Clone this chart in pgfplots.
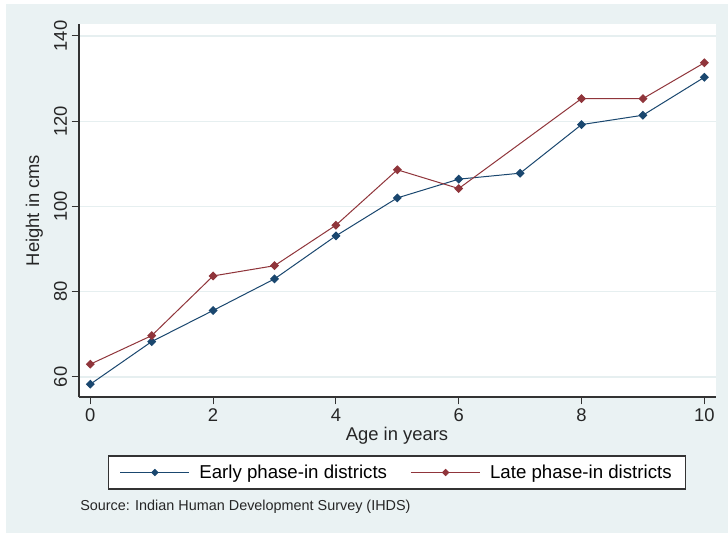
\documentclass[border=0pt]{standalone}
\usepackage{fontspec}
\setmainfont{Liberation Sans}
\usepackage{pgfplots}
\pgfplotsset{compat=1.18}
\definecolor{bgc}{HTML}{EAF2F3}
\definecolor{gridc}{HTML}{E6EFF0}
\definecolor{snavy}{HTML}{1A476F}
\definecolor{smaroon}{HTML}{90353B}
\definecolor{axc}{HTML}{333333}
\begin{document}
\begin{tikzpicture}
\path[fill=white] (0,0) rectangle (546pt,399.75pt);
\fill[bgc] (4.5pt,0) rectangle (546pt,396.75pt);
\begin{axis}[
  at={(59.25pt,102pt)}, anchor=south west,
  scale only axis, width=477.75pt, height=279.75pt,
  axis background/.style={fill=white},
  xmin=-0.184, xmax=10.19, ymin=55.3, ymax=142.8,
  axis x line*=bottom, axis y line*=left,
  axis line style={axc, line width=0.9pt},
  xtick={0,2,4,6,8,10}, ytick={60,80,100,120,140},
  minor tick num=0,
  tick align=outside, major tick length=5.5pt,
  tick style={axc, line width=0.75pt},
  ymajorgrids, grid style={gridc, line width=0.9pt},
  /pgf/number format/assume math mode=true,
  ticklabel style={font=\fontsize{13.8}{16}\selectfont, text=black!85},
  yticklabel style={rotate=90, anchor=south},
  xlabel={Age in years}, ylabel={Height in cms},
  label style={font=\fontsize{13.8}{16}\selectfont, text=black!85},
  xlabel style={at={(axis description cs:0.4992,-0.1046)}, anchor=center},
  ylabel style={at={(axis description cs:-0.0699,0.5)}, anchor=center, rotate=0},
  legend columns=2,
  legend style={at={(axis description cs:0.4992,-0.2024)}, anchor=center,
    draw=axc, line width=0.9pt, fill=white, font=\fontsize{14}{16}\selectfont,
    inner xsep=8.5pt, inner ysep=4.5pt,
    /tikz/every odd column/.append style={column sep=5pt},
    /tikz/every even column/.append style={column sep=15.5pt}},
  legend cell align=left,
  legend image code/.code={
    \draw[#1, mark repeat=2, mark phase=2, mark size=1.6pt] plot coordinates {(0pt,0pt) (26pt,0pt) (52pt,0pt)};
  },
  every axis plot/.append style={line width=0.75pt, mark=square*, mark size=2pt, mark options={rotate=45, solid}},
]
\addplot[snavy] coordinates {(0,58.3) (1,68.3) (2,75.6) (3,83.0) (4,93.1) (5,102.0) (6,106.4) (7,107.8) (8,119.2) (9,121.4) (10,130.3)};
\addlegendentry{Early phase-in districts}
\addplot[smaroon] coordinates {(0,63.0) (1,69.7) (2,83.7) (3,86.1) (4,95.6) (5,108.6) (6,104.2) (8,125.3) (9,125.3) (10,133.7)};
\addlegendentry{Late phase-in districts}
\end{axis}
\node[anchor=west, inner sep=0pt, font=\fontsize{10.8}{12}\selectfont, text=black!85] at (60pt,19.5pt) {Source: Indian Human Development Survey (IHDS)};
\end{tikzpicture}
\end{document}
